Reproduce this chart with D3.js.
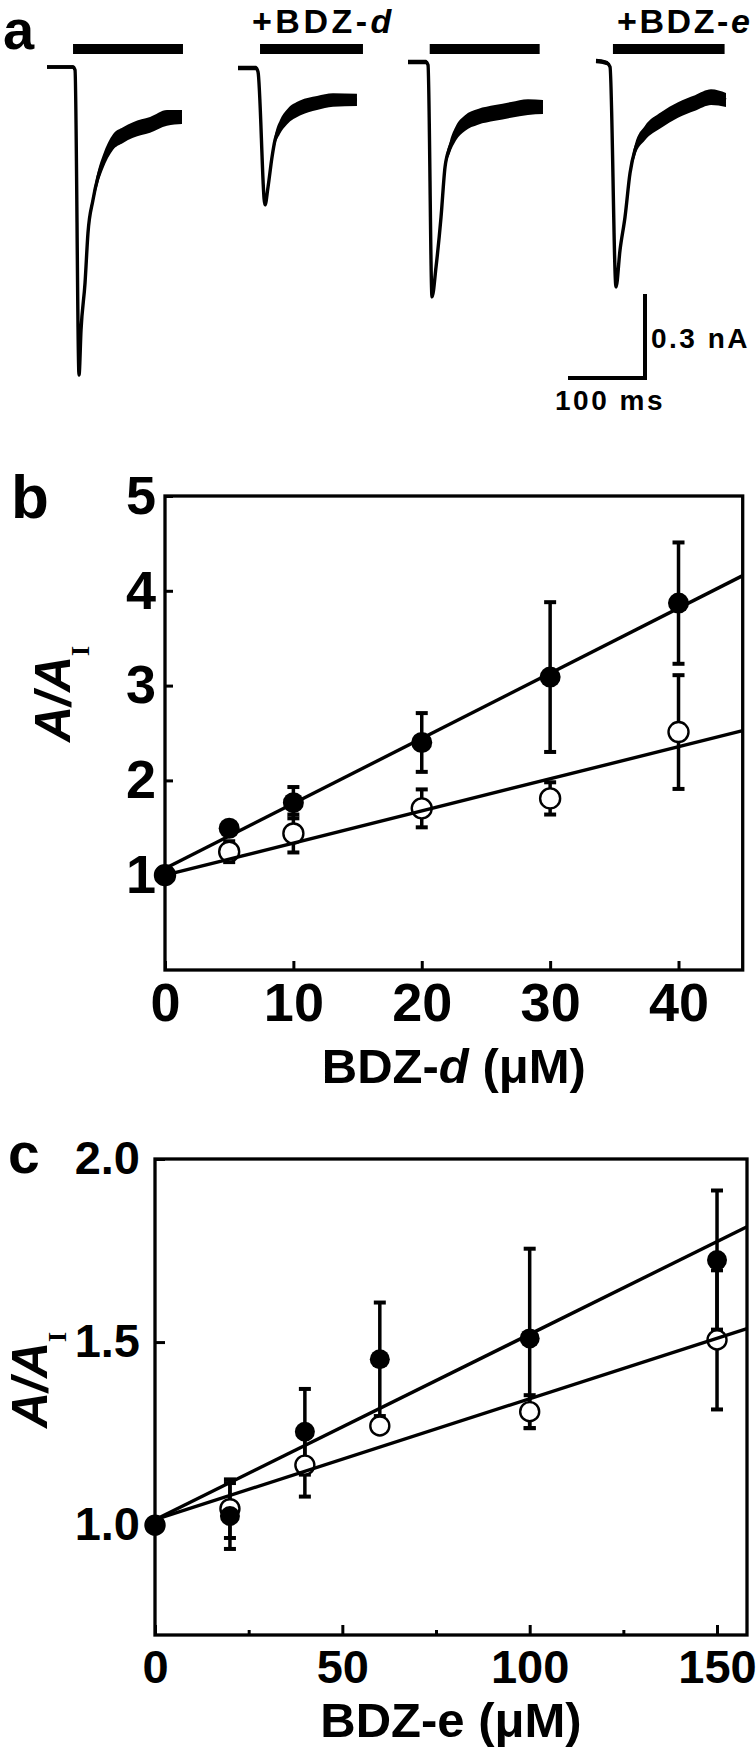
<!DOCTYPE html>
<html><head><meta charset="utf-8">
<script src="https://cdn.jsdelivr.net/npm/d3@7"></script>
<style>
html,body{margin:0;padding:0;background:#fff;}
svg{display:block;font-family:"Liberation Sans",Arial,sans-serif;font-weight:bold;}
</style></head><body>
<svg id="fig" width="756" height="1748"></svg>
<script>
// ---------- Panel a : whole-cell current traces ([time ms, current nA, noise half-width nA])
const traceControlD = [[0,0,0.006],[33.8,0,0.006],[36.4,-0.011,0.004],[41.6,-1.10,0.004],[44.2,-0.939,0.004],[49.4,-0.771,0.006],[53.2,-0.593,0.012],[59.7,-0.475,0.018],[66.2,-0.393,0.024],[72.7,-0.339,0.026],[85.7,-0.268,0.028],[98.7,-0.243,0.028],[111.7,-0.225,0.028],[133.8,-0.207,0.028],[155.8,-0.182,0.028],[175.3,-0.179,0.025]];
const traceBDZd = [[0,0,0.008],[23.4,0,0.008],[26,-0.014,0.004],[35.1,-0.489,0.004],[39,-0.425,0.008],[44.2,-0.318,0.014],[48.1,-0.257,0.02],[54.5,-0.211,0.025],[63.6,-0.175,0.027],[80.5,-0.143,0.027],[102.6,-0.125,0.025],[123.4,-0.114,0.024],[154.5,-0.114,0.022]];
const traceControlE = [[0,0,0.008],[23.4,0,0.008],[26,-0.011,0.004],[31.2,-0.839,0.004],[36.4,-0.732,0.004],[42.9,-0.554,0.008],[48.1,-0.375,0.014],[54.5,-0.304,0.022],[62.3,-0.254,0.026],[74,-0.218,0.028],[90.9,-0.196,0.028],[113,-0.182,0.028],[133.8,-0.171,0.028],[155.8,-0.161,0.028],[175.3,-0.161,0.025]];
const traceBDZe = [[0,0,0.008],[14.3,-0.007,0.008],[18.2,-0.021,0.004],[26,-0.807,0.004],[31.2,-0.675,0.004],[37.7,-0.557,0.008],[44.2,-0.40,0.014],[50.6,-0.318,0.022],[63.6,-0.257,0.026],[84.4,-0.211,0.028],[106.5,-0.175,0.028],[128.6,-0.15,0.028],[149.4,-0.129,0.028],[168.8,-0.139,0.025]];
const traceData = [traceControlD, traceBDZd, traceControlE, traceBDZe];
const drugBarsMs = [[33.8,176.6],[28.6,162.3],[28.2,171],[22,167]];
const traceLabelMain = ["", "+BDZ-", "", "+BDZ-"];
const traceLabelItalic = ["", "d", "", "e"];
const scaleBarMs = 100, scaleBarNA = 0.3;
const scaleBarLabels = ["0.3 nA", "100 ms"];

// ---------- Panel b
const bdzD = [0, 5, 10, 20, 30, 40];
const bFilled = [1.0, 1.495, 1.765, 2.40, 3.09, 3.87];
const bFilledErr = [0, 0.05, 0.165, 0.31, 0.79, 0.64];
const bOpen = [1.0, 1.248, 1.44, 1.705, 1.81, 2.51];
const bOpenErr = [0, 0.11, 0.2, 0.2, 0.17, 0.6];
const bFitFilled = [[0, 1.07], [45, 4.16]];
const bFitOpen = [[0, 1.0], [45, 2.525]];
const bXTicks = [0, 10, 20, 30, 40];
const bYTicks = [1, 2, 3, 4, 5];

// ---------- Panel c
const bdzE = [0, 20, 40, 60, 100, 150];
const cFilled = [1.0, 1.025, 1.255, 1.453, 1.51, 1.724];
const cFilledErr = [0, 0.09, 0.117, 0.155, 0.245, 0.19];
const cOpen = [1.0, 1.045, 1.164, 1.271, 1.31, 1.506];
const cOpenErr = [0, 0.08, 0.086, 0.015, 0.045, 0.19];
const cFitFilled = [[0, 1.015], [158, 1.815]];
const cFitOpen = [[0, 1.015], [158, 1.537]];
const cXTicks = [0, 50, 100, 150];
const cXMinorTicks = [25, 75, 125];
const cYTicks = [1.0, 1.5, 2.0];

const svg = d3.select("#fig");

// ================= Panel a =================
svg.append("text").attr("x", 3).attr("y", 49).attr("font-size", 56).text("a");
const xA = d3.scaleLinear().domain([0, 100]).range([0, 77]);
const yA = d3.scaleLinear().domain([0, -1]).range([0, 280]);
const traceOrigins = [[47, 67], [238, 68], [408, 62], [596, 61]];
const barY = 49;
const labelOffsets = [0, -8, 0, 4];
const labelSpacing = [0, 3.5, 0, 2.6];
traceData.forEach((tr, i) => {
  const g = svg.append("g").attr("transform", `translate(${traceOrigins[i][0]},${traceOrigins[i][1]})`);
  g.append("path").datum(tr)
    .attr("d", d3.area().x(d => xA(d[0])).y0(d => yA(d[1] + d[2])).y1(d => yA(d[1] - d[2])).curve(d3.curveMonotoneX))
    .attr("fill", "#000");
  g.append("path").datum(tr)
    .attr("d", d3.line().x(d => xA(d[0])).y(d => yA(d[1])).curve(d3.curveMonotoneX))
    .attr("fill", "none").attr("stroke", "#000").attr("stroke-width", 3.4).attr("stroke-linejoin", "round");
  const b = drugBarsMs[i];
  g.append("line").attr("x1", xA(b[0])).attr("x2", xA(b[1]))
    .attr("y1", barY - traceOrigins[i][1]).attr("y2", barY - traceOrigins[i][1])
    .attr("stroke", "#000").attr("stroke-width", 10);
  if (traceLabelMain[i]) {
    const t = g.append("text").attr("x", xA(b[0]) + labelOffsets[i]).attr("y", 33 - traceOrigins[i][1])
      .attr("font-size", 34).attr("letter-spacing", labelSpacing[i]);
    t.append("tspan").text(traceLabelMain[i]);
    t.append("tspan").attr("font-style", "italic").text(traceLabelItalic[i]);
  }
});
// scale bar
const sbCorner = [645, 378];
svg.append("path")
  .attr("d", `M${sbCorner[0] - xA(scaleBarMs)},${sbCorner[1]}H${sbCorner[0]}V${sbCorner[1] - yA(-scaleBarNA)}`)
  .attr("fill", "none").attr("stroke", "#000").attr("stroke-width", 4);
svg.append("text").attr("x", 651).attr("y", 348).attr("font-size", 28).attr("letter-spacing", 2.5).text(scaleBarLabels[0]);
svg.append("text").attr("x", 555).attr("y", 410).attr("font-size", 28).attr("letter-spacing", 2.5).text(scaleBarLabels[1]);

// ================= helpers =================
function drawPanel(opt) {
  const x = d3.scaleLinear().domain(opt.xDomain).range([opt.left, opt.right]);
  const y = d3.scaleLinear().domain(opt.yDomain).range([opt.bottom, opt.top]);
  const gx = svg.append("g").attr("transform", `translate(0,${opt.bottom})`)
    .call(d3.axisBottom(x).tickValues(opt.xTicks).tickSizeInner(-opt.xTickLen).tickSizeOuter(0).tickPadding(opt.xPad).tickFormat(d3.format("d")));
  if (opt.xMinor) {
    const gm = svg.append("g").attr("transform", `translate(0,${opt.bottom})`)
      .call(d3.axisBottom(x).tickValues(opt.xMinor).tickSizeInner(-5).tickSizeOuter(0).tickFormat(""));
    gm.select(".domain").remove();
    gm.selectAll("line").attr("stroke-width", 3);
  }
  const gy = svg.append("g").attr("transform", `translate(${opt.left},0)`)
    .call(d3.axisLeft(y).tickValues(opt.yTicks).tickSizeInner(-opt.yTickLen).tickSizeOuter(0).tickPadding(opt.yPad).tickFormat(opt.yFmt));
  [gx, gy].forEach(g => {
    g.select(".domain").remove();
    g.attr("font-family", null).attr("font-size", null);
    g.selectAll("line").attr("stroke-width", 3);
    g.selectAll("text").attr("font-size", opt.tickFont).attr("fill", "#000");
  });
  gy.selectAll("text").attr("dy", opt.yDy);
  svg.append("rect").attr("x", opt.left).attr("y", opt.top)
    .attr("width", opt.right - opt.left).attr("height", opt.bottom - opt.top)
    .attr("fill", "none").attr("stroke", "#000").attr("stroke-width", 3.3);

  const g = svg.append("g");
  const errBar = (xs, ys, es) => {
    xs.forEach((xv, i) => {
      if (!es[i]) return;
      const cx = x(xv), y1 = y(ys[i] + es[i]), y2 = y(ys[i] - es[i]);
      g.append("line").attr("x1", cx).attr("x2", cx).attr("y1", y1).attr("y2", y2).attr("stroke", "#000").attr("stroke-width", 3.5);
      [y1, y2].forEach(yy => g.append("line").attr("x1", cx - 6).attr("x2", cx + 6).attr("y1", yy).attr("y2", yy).attr("stroke", "#000").attr("stroke-width", 4));
    });
  };
  errBar(opt.xs, opt.filled, opt.filledErr);
  errBar(opt.xs, opt.open, opt.openErr);
  g.selectAll(null).data(opt.xs).enter().append("circle")
    .attr("cx", d => x(d)).attr("cy", (d, i) => y(opt.open[i])).attr("r", opt.r)
    .attr("fill", "#fff").attr("stroke", "#000").attr("stroke-width", 2.4);
  [opt.fitFilled, opt.fitOpen].forEach(f => {
    g.append("path").datum(f).attr("d", d3.line().x(d => x(d[0])).y(d => y(d[1])))
      .attr("stroke", "#000").attr("stroke-width", 3.4).attr("fill", "none");
  });
  g.selectAll(null).data(opt.xs).enter().append("circle")
    .attr("cx", d => x(d)).attr("cy", (d, i) => y(opt.filled[i])).attr("r", opt.r + 0.5)
    .attr("fill", "#000");
  const t = svg.append("text").attr("x", (opt.left + opt.right) / 2).attr("y", opt.xTitleY)
    .attr("text-anchor", "middle").attr("font-size", 49);
  t.append("tspan").text("BDZ-");
  t.append("tspan").attr("font-style", opt.italicX ? "italic" : "normal").text(opt.xVar);
  t.append("tspan").text(" (\u03bcM)");
  const yt = svg.append("text").attr("transform", `translate(${opt.yTitleX},${opt.yTitleY}) rotate(-90)`)
    .attr("font-size", 50);
  yt.append("tspan").attr("font-style", "italic").text("A/A");
  yt.append("tspan").attr("font-family", "'Liberation Serif',serif").attr("font-size", 26).attr("dy", 19).text("I");
}

// ================= Panel b =================
svg.append("text").attr("x", 11).attr("y", 518).attr("font-size", 62).text("b");
drawPanel({
  xDomain: [0, 45], yDomain: [0, 5], left: 165, right: 742.7, top: 496, bottom: 970,
  xTicks: bXTicks, yTicks: bYTicks, xTickLen: 9, yTickLen: 8, xPad: 13, yPad: 9, tickFont: 54, yDy: "0.32em",
  yFmt: d3.format("d"), xs: bdzD, filled: bFilled, filledErr: bFilledErr, open: bOpen, openErr: bOpenErr,
  fitFilled: bFitFilled, fitOpen: bFitOpen, r: 10, xTitleY: 1083, italicX: true, xVar: "d",
  yTitleX: 70, yTitleY: 742
});

// ================= Panel c =================
svg.append("text").attr("x", 8).attr("y", 1173).attr("font-size", 57).text("c");
drawPanel({
  xDomain: [0, 158], yDomain: [0.7, 2.0], left: 155, right: 747, top: 1159, bottom: 1635,
  xTicks: cXTicks, xMinor: cXMinorTicks, yTicks: cYTicks, xTickLen: 10, yTickLen: 10, xPad: 15, yPad: 15, tickFont: 47, yDy: "0.3em",
  yFmt: d3.format(".1f"), xs: bdzE, filled: cFilled, filledErr: cFilledErr, open: cOpen, openErr: cOpenErr,
  fitFilled: cFitFilled, fitOpen: cFitOpen, r: 9.5, xTitleY: 1737, italicX: false, xVar: "e",
  yTitleX: 47, yTitleY: 1428
});
</script>
</body></html>
